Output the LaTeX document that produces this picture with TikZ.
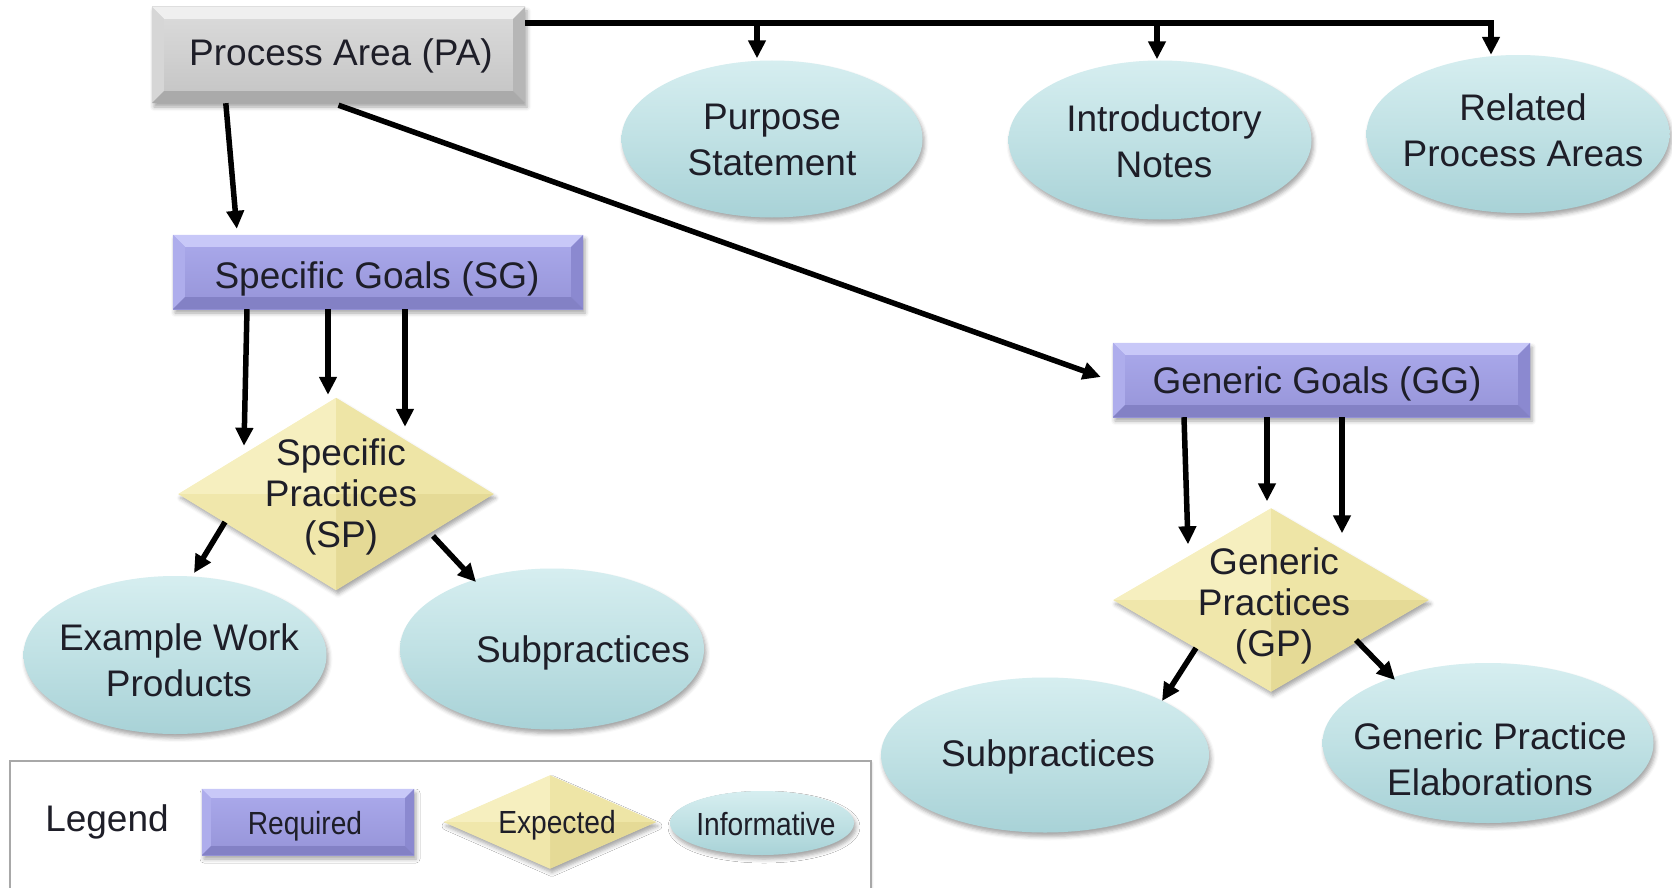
\documentclass[tikz,border=0pt]{standalone}
\usepackage{fontspec}
\usepackage{graphicx}
\setmainfont{Liberation Sans}
\usetikzlibrary{shapes.geometric,arrows.meta,calc,shadows.blur}

\definecolor{txt}{HTML}{1E1E28}
% grey process-area box
\definecolor{paTop}{HTML}{DCDCDC}
\definecolor{paBot}{HTML}{C4C4C4}
\definecolor{paBT}{HTML}{EFEFEF}
\definecolor{paBL}{HTML}{D6D6D6}
\definecolor{paBR}{HTML}{B6B6B6}
\definecolor{paBB}{HTML}{AAAAAA}
% required (purple)
\definecolor{rqTop}{HTML}{ABAAEC}
\definecolor{rqBot}{HTML}{9694D8}
\definecolor{rqBT}{HTML}{C8C8F8}
\definecolor{rqBL}{HTML}{AEADEC}
\definecolor{rqBR}{HTML}{8B89D0}
\definecolor{rqBB}{HTML}{8381C5}
% expected (yellow)
\definecolor{exTL}{HTML}{F6EFBF}
\definecolor{exTR}{HTML}{EEE5A6}
\definecolor{exBL}{HTML}{F0E7AB}
\definecolor{exBR}{HTML}{E5DA96}
% informative (cyan)
\definecolor{infTop}{HTML}{D6EEF0}
\definecolor{infMid}{HTML}{C0E1E4}
\definecolor{infBot}{HTML}{A8D2D7}
\definecolor{legendline}{HTML}{A8A8A8}

% bevelled edges of a rectangular node: node, inset, top, left, right, bottom
\newcommand\bevel[6]{%
  \fill[#3] (#1.north west) -- (#1.north east) -- ($(#1.north east)+(-#2,#2)$) -- ($(#1.north west)+(#2,#2)$) -- cycle;
  \fill[#4] (#1.north west) -- ($(#1.north west)+(#2,#2)$) -- ($(#1.south west)+(#2,-#2)$) -- (#1.south west) -- cycle;
  \fill[#5] (#1.north east) -- ($(#1.north east)+(-#2,#2)$) -- ($(#1.south east)+(-#2,-#2)$) -- (#1.south east) -- cycle;
  \fill[#6] (#1.south west) -- ($(#1.south west)+(#2,-#2)$) -- ($(#1.south east)+(-#2,-#2)$) -- (#1.south east) -- cycle;
}
% four faces of a diamond node
\newcommand\facets[1]{%
  \fill[exTL] (#1.center) -- (#1.west) -- (#1.north) -- cycle;
  \fill[exTR] (#1.center) -- (#1.north) -- (#1.east) -- cycle;
  \fill[exBR] (#1.center) -- (#1.east) -- (#1.south) -- cycle;
  \fill[exBL] (#1.center) -- (#1.south) -- (#1.west) -- cycle;
}

\begin{document}
\begin{tikzpicture}[x=1pt,y=-1pt,
  lbl/.style={text=txt, font=\fontsize{37}{46}\selectfont, align=center, inner sep=0},
  dlbl/.style={lbl, font=\fontsize{37}{41}\selectfont},
  klbl/.style={text=txt, font=\fontsize{32}{38}\selectfont, inner sep=0},
  shad/.style={blur shadow={shadow xshift=2pt, shadow yshift=-4pt, shadow blur radius=4pt, shadow opacity=35}},
  pabox/.style={rectangle, inner sep=0, top color=paTop, bottom color=paBot, shad},
  reqbox/.style={rectangle, inner sep=0, top color=rqTop, bottom color=rqBot, shad},
  expd/.style={diamond, inner sep=0, fill=exTL, shad},
  info/.style={ellipse, inner sep=0, top color=infTop, bottom color=infBot, middle color=infMid, shad},
  arr/.style={line width=5.5pt, -{Triangle[length=18pt,width=17pt]}},
]
\useasboundingbox (0,0) rectangle (1672,888);

% ---- shapes ----
\node[pabox, minimum width=373, minimum height=96] (pa) at (338.5,55) {};
\bevel{pa}{12}{paBT}{paBL}{paBR}{paBB}

\node[info, minimum width=301, minimum height=157] (purpose) at (772,139) {};
\node[info, minimum width=303, minimum height=159] (intro) at (1160,140) {};
\node[info, minimum width=303, minimum height=158] (related) at (1518,134) {};

\node[reqbox, minimum width=410, minimum height=74] (sg) at (378,272) {};
\bevel{sg}{12}{rqBT}{rqBL}{rqBR}{rqBB}
\node[reqbox, minimum width=417, minimum height=74] (gg) at (1321.5,380) {};
\bevel{gg}{12}{rqBT}{rqBL}{rqBR}{rqBB}

\node[expd, minimum width=315, minimum height=192] (sp) at (336,494) {};
\facets{sp}
\node[expd, minimum width=315, minimum height=183] (gp) at (1271,600) {};
\facets{gp}

\node[info, minimum width=303, minimum height=158] (ewp) at (175,655) {};
\node[info, minimum width=304, minimum height=161] (subL) at (552,649) {};
\node[info, minimum width=328, minimum height=155] (subR) at (1045,755) {};
\node[info, minimum width=331, minimum height=160] (gpe) at (1488,743) {};

% ---- legend ----
\node[draw=legendline, line width=1.5pt, fill=white, minimum width=861, minimum height=150,
      anchor=north west, inner sep=0,
      blur shadow={shadow xshift=1pt, shadow yshift=-2pt, shadow blur radius=2pt, shadow opacity=25}]
      (legend) at (9,760) {};
\node[reqbox, minimum width=212, minimum height=66] (keyreq) at (308,822) {};
\bevel{keyreq}{9}{rqBT}{rqBL}{rqBR}{rqBB}
\node[expd, minimum width=212, minimum height=93] (keyexp) at (550,822) {};
\facets{keyexp}
\node[info, minimum width=184, minimum height=64] (keyinf) at (762,823) {};

% ---- texts ----
\node[lbl] (pa-t) at (341,56) {Process Area (PA)};
\node[lbl] (purpose-t) at (772,140) {Purpose\\Statement};
\node[lbl] (intro-t) at (1164,141) {Introductory\\Notes};
\node[lbl] (related-t) at (1523,130) {Related\\Process Areas};
\node[lbl] (sg-t) at (377,279) {Specific Goals (SG)};
\node[lbl] (gg-t) at (1317,384) {Generic Goals (GG)};
\node[dlbl] (sp-t) at (341,497) {Specific\\Practices\\(SP)};
\node[dlbl] (gp-t) at (1274,606) {Generic\\Practices\\(GP)};
\node[lbl] (ewp-t) at (179,660) {Example Work\\Products};
\node[lbl] (subL-t) at (583,653) {Subpractices};
\node[lbl] (subR-t) at (1048,757) {Subpractices};
\node[lbl] (gpe-t) at (1490,759) {Generic Practice\\Elaborations};
\node[lbl] (legend-t) at (107,822) {Legend};
\node[klbl] (keyreq-t) at (305,826) {\scalebox{0.88}[1]{Required}};
\node[klbl] (keyexp-t) at (557,825) {\scalebox{0.88}[1]{Expected}};
\node[klbl] (keyinf-t) at (766,824) {\scalebox{0.88}[1]{Informative}};

% ---- connectors ----
\coordinate (bus) at ($(pa.north east)+(0,16)$);
\coordinate (drop1) at ($(purpose.north)+(-15,-2)$);
\coordinate (drop2) at ($(intro.north)+(-3,-1)$);
\coordinate (drop3) at ($(related.north)+(-27,0)$);
\draw[arr, line width=6pt] (bus) -| (drop3);
\draw[arr] (drop1 |- bus) -- (drop1);
\draw[arr] (drop2 |- bus) -- (drop2);

\draw[arr] ($(pa.south west)+(74,0)$) -- ($(sg.north west)+(64,-6)$);
\draw[arr] ($(pa.south)+(0,2)$) -- ($(gg.west)+(-12,-3)$);

\draw[arr] ($(sg.south)+(-131,0)$) -- ($(sp.north)+(-92,48)$);
\draw[arr] ($(sg.south)+(-50,0)$) -- ($(sp.north)+(-8,-3)$);
\draw[arr] ($(sg.south)+(27,0)$) -- ($(sp.north)+(69,29)$);
\draw[arr] ($(sp.center)+(-111,28)$) -- ($(ewp.center)+(19,-82)$);
\draw[arr] ($(sp.center)+(97,42)$) -- ($(subL.center)+(-76,-67)$);

\draw[arr] ($(gg.south)+(-137.5,0)$) -- ($(gp.north)+(-83,36)$);
\draw[arr] ($(gg.south)+(-54.5,0)$) -- ($(gp.north)+(-4,-7)$);
\draw[arr] ($(gg.south)+(20.5,0)$) -- ($(gp.north)+(71,25)$);
\draw[arr] ($(gp.center)+(-75,48)$) -- ($(subR.center)+(117,-54)$);
\draw[arr] ($(gp.center)+(85,40)$) -- ($(gpe.center)+(-93,-63)$);
\end{tikzpicture}
\end{document}
